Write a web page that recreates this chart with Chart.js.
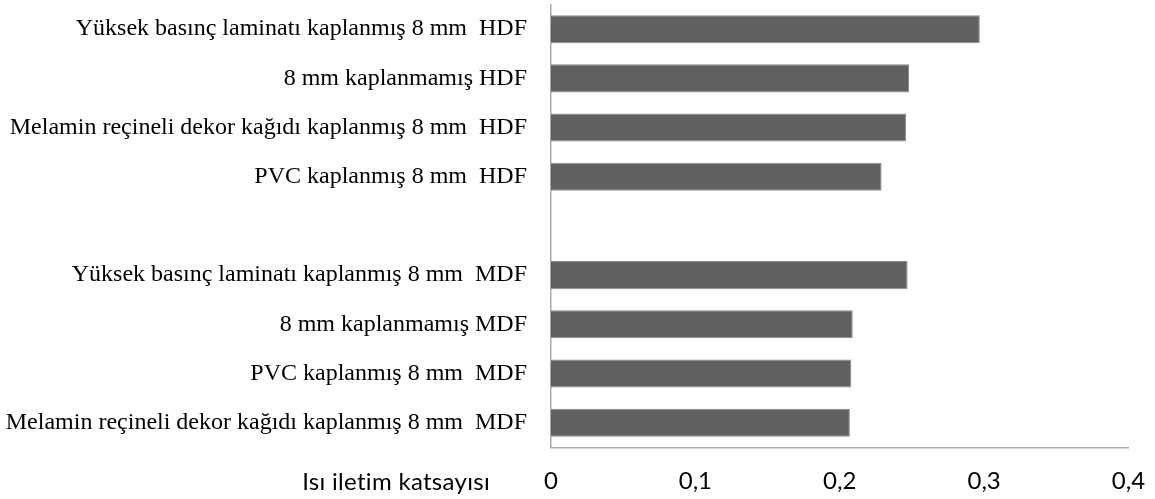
<!DOCTYPE html>
<html>
<head>
<meta charset="utf-8">
<script src="https://cdn.jsdelivr.net/npm/chart.js@4/dist/chart.umd.min.js"></script>
<style>
  html, body { margin: 0; padding: 0; background: #ffffff; }
  #wrap { width: 1155px; height: 499px; }
</style>
</head>
<body>
<div id="wrap"><canvas id="c" width="1155" height="499"></canvas></div>
<script>
// Panel types (top to bottom); the empty entry separates HDF and MDF groups
const categories = [
  'Yüksek basınç laminatı kaplanmış 8 mm  HDF',
  '8 mm kaplanmamış HDF',
  'Melamin reçineli dekor kağıdı kaplanmış 8 mm  HDF',
  'PVC kaplanmış 8 mm  HDF',
  '',
  'Yüksek basınç laminatı kaplanmış 8 mm  MDF',
  '8 mm kaplanmamış MDF',
  'PVC kaplanmış 8 mm  MDF',
  'Melamin reçineli dekor kağıdı kaplanmış 8 mm  MDF'
];

// Thermal conductivity values
const conductivity = [0.297, 0.248, 0.246, 0.229, null, 0.247, 0.209, 0.208, 0.207];

// Value axis ticks
const xTicks = [0, 0.1, 0.2, 0.3, 0.4];
const xTickLabels = ['0', '0,1', '0,2', '0,3', '0,4'];
const xAxisTitle = 'Isı iletim katsayısı';

const sansFont = 'Lato, "Open Sans", sans-serif';
const serifFont = '"Liberation Serif", "DejaVu Serif", serif';

// Axis title written on the left of the value axis labels
const leftAxisTitle = {
  id: 'leftAxisTitle',
  afterDraw(chart) {
    const { ctx, chartArea } = chart;
    ctx.save();
    ctx.font = '24px ' + sansFont;
    ctx.fillStyle = '#000000';
    ctx.textAlign = 'right';
    ctx.textBaseline = 'alphabetic';
    if ('letterSpacing' in ctx) ctx.letterSpacing = '0.3px';
    ctx.fillText(xAxisTitle, chartArea.left - 61, chartArea.bottom + 42.2);
    ctx.restore();
  }
};

// Fixed axis sizes, without the extra label padding Chart.js reserves
function clearPadding(scale) {
  scale.paddingTop = 0;
  scale.paddingBottom = 0;
  scale.paddingLeft = 0;
  scale.paddingRight = 0;
}

new Chart(document.getElementById('c'), {
  type: 'bar',
  data: {
    labels: categories,
    datasets: [{
      data: conductivity,
      backgroundColor: '#606060',
      borderColor: '#8a8a8a',
      borderWidth: 1,
      barPercentage: 0.57,
      categoryPercentage: 1.0
    }]
  },
  options: {
    indexAxis: 'y',
    responsive: false,
    animation: false,
    layout: { padding: { top: 4.6, right: 26.5, left: 0, bottom: 0 } },
    plugins: {
      legend: { display: false },
      tooltip: { enabled: false }
    },
    scales: {
      x: {
        type: 'linear',
        min: 0,
        max: 0.4,
        afterBuildTicks(scale) {
          scale.ticks = xTicks.map(v => ({ value: v }));
        },
        afterFit(scale) { scale.height = 51.7; clearPadding(scale); },
        grid: { display: false, drawTicks: false, tickLength: 0 },
        border: { display: true, color: '#ababab', width: 1.5 },
        ticks: {
          padding: 20,
          color: '#000000',
          font: { family: sansFont, size: 24 },
          maxRotation: 0,
          callback(value) {
            const i = xTicks.findIndex(t => Math.abs(t - value) < 1e-9);
            return i >= 0 ? xTickLabels[i] : '';
          }
        }
      },
      y: {
        afterFit(scale) { scale.width = 551; clearPadding(scale); },
        grid: { display: false, drawTicks: false, tickLength: 0 },
        border: { display: true, color: '#ababab', width: 1.5 },
        ticks: {
          padding: 24,
          color: '#000000',
          autoSkip: false,
          font: { family: serifFont, size: 24 }
        }
      }
    }
  },
  plugins: [leftAxisTitle]
});
</script>
</body>
</html>
